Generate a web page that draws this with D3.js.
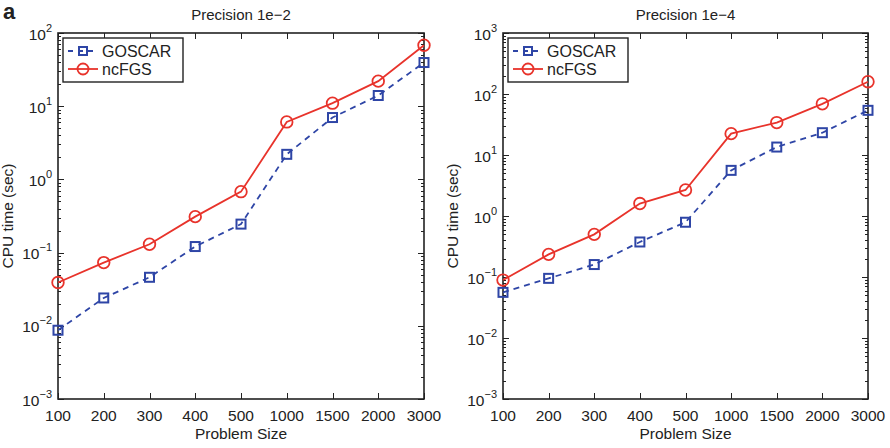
<!DOCTYPE html>
<html lang="en">
<head>
<meta charset="UTF-8">
<title>CPU time</title>
<style>
  body { margin: 0; background: #fff; }
  svg text { font-family: "Liberation Sans", Arial, sans-serif; fill: #222; }
  .axis path { display: none; }
  .axis line { stroke: #222; shape-rendering: crispEdges; }
</style>
</head>
<body>
<svg id="chart" width="890" height="448"></svg>
<script src="https://d3js.org/d3.v7.min.js"></script>
<script>
const sizes = ["100", "200", "300", "400", "500", "1000", "1500", "2000", "3000"];

// precision 1e-2
const goscar1 = [0.0087, 0.024, 0.046, 0.121, 0.245, 2.2, 7.0, 14, 39.5];
const ncfgs1 = [0.039, 0.073, 0.13, 0.31, 0.68, 6.1, 11, 22, 68];

// precision 1e-4
const goscar2 = [0.056, 0.095, 0.16, 0.375, 0.79, 5.6, 13.5, 23.2, 54];
const ncfgs2 = [0.089, 0.235, 0.5, 1.6, 2.67, 22.4, 34, 69, 159];

const titles = ["Precision 1e\u22122", "Precision 1e\u22124"];
const yDomains = [[1e-3, 1e2], [1e-3, 1e3]];

const blue = "#2e45a6", red = "#e8332b";

const svg = d3.select("#chart");

svg.append("text")
    .attr("x", 3).attr("y", 19)
    .style("font-size", "22px").style("font-weight", "bold")
    .text("a");

function drawPanel(left, right, title, domain, goscar, ncfgs) {
    const top = 33, bottom = 399;
    const x = d3.scalePoint().domain(sizes).range([left, right]);
    const y = d3.scaleLog().domain(domain).range([bottom, top]);

    const g = svg.append("g");

    // minor + major ticks on log axis
    const lo = Math.log10(domain[0]), hi = Math.log10(domain[1]);
    const major = d3.range(lo, hi + 1).map(e => Math.pow(10, e));
    const minor = [];
    major.slice(0, -1).forEach(m => { for (let k = 2; k < 10; k++) minor.push(m * k); });

    g.append("g").attr("class", "axis").attr("transform", `translate(${left},0)`)
        .call(d3.axisLeft(y).tickValues(minor).tickSize(-3).tickFormat(""));
    g.append("g").attr("class", "axis").attr("transform", `translate(${right},0)`)
        .call(d3.axisRight(y).tickValues(minor).tickSize(-3).tickFormat(""));
    g.append("g").attr("class", "axis").attr("transform", `translate(${left},0)`)
        .call(d3.axisLeft(y).tickValues(major).tickSize(-6).tickFormat(""));
    g.append("g").attr("class", "axis").attr("transform", `translate(${right},0)`)
        .call(d3.axisRight(y).tickValues(major).tickSize(-6).tickFormat(""));

    g.append("g").attr("class", "axis").attr("transform", `translate(0,${bottom})`)
        .call(d3.axisBottom(x).tickSize(-6).tickFormat(""));
    g.append("g").attr("class", "axis").attr("transform", `translate(0,${top})`)
        .call(d3.axisTop(x).tickSize(-6).tickFormat(""));

    // y tick labels with superscript exponent
    major.forEach(v => {
        const e = Math.round(Math.log10(v));
        const t = g.append("text")
            .attr("x", left - 6).attr("y", y(v) + 6.5)
            .attr("text-anchor", "end")
            .style("font-size", "15.5px");
        t.append("tspan").text("10");
        t.append("tspan").attr("dy", -8).style("font-size", "11px")
            .text(e < 0 ? "\u2212" + (-e) : e);
    });

    // x tick labels
    g.selectAll(".xl").data(sizes).enter().append("text")
        .attr("x", d => x(d)).attr("y", bottom + 22)
        .attr("text-anchor", "middle")
        .style("font-size", "15.5px")
        .text(d => d);

    // box
    g.append("rect")
        .attr("x", left).attr("y", top)
        .attr("width", right - left).attr("height", bottom - top)
        .attr("fill", "none").attr("stroke", "#222").attr("stroke-width", 1.6);

    g.append("text").attr("x", (left + right) / 2).attr("y", 20)
        .attr("text-anchor", "middle").style("font-size", "15px").text(title);
    g.append("text").attr("x", (left + right) / 2).attr("y", bottom + 40)
        .attr("text-anchor", "middle").style("font-size", "15.5px").text("Problem Size");
    g.append("text")
        .attr("transform", `translate(${left - 45},${(top + bottom) / 2}) rotate(-90)`)
        .attr("text-anchor", "middle").style("font-size", "15.5px").text("CPU time (sec)");

    const line = d3.line().x((d, i) => x(sizes[i])).y(d => y(d));

    g.append("path").datum(goscar).attr("d", line)
        .attr("fill", "none").attr("stroke", blue).attr("stroke-width", 1.8)
        .attr("stroke-dasharray", "6,5");
    g.append("path").datum(ncfgs).attr("d", line)
        .attr("fill", "none").attr("stroke", red).attr("stroke-width", 1.8);

    g.selectAll(".sq").data(goscar).enter().append("rect")
        .attr("x", (d, i) => x(sizes[i]) - 4.5).attr("y", d => y(d) - 4.5)
        .attr("width", 9).attr("height", 9)
        .attr("fill", "none").attr("stroke", blue).attr("stroke-width", 2);
    g.selectAll(".ci").data(ncfgs).enter().append("circle")
        .attr("cx", (d, i) => x(sizes[i])).attr("cy", d => y(d)).attr("r", 5.8)
        .attr("fill", "none").attr("stroke", red).attr("stroke-width", 1.8);

    // legend
    const lx = left + 5, ly = 38;
    const lg = g.append("g");
    lg.append("rect").attr("x", lx).attr("y", ly).attr("width", 120).attr("height", 44)
        .attr("fill", "#fff").attr("stroke", "#222").attr("stroke-width", 1.4);
    lg.append("line").attr("x1", lx + 5).attr("x2", lx + 35).attr("y1", ly + 13).attr("y2", ly + 13)
        .attr("stroke", blue).attr("stroke-width", 1.8).attr("stroke-dasharray", "5,5");
    lg.append("rect").attr("x", lx + 16).attr("y", ly + 9).attr("width", 8).attr("height", 8)
        .attr("fill", "none").attr("stroke", blue).attr("stroke-width", 2);
    lg.append("text").attr("x", lx + 39).attr("y", ly + 19).style("font-size", "16px").text("GOSCAR");
    lg.append("line").attr("x1", lx + 5).attr("x2", lx + 35).attr("y1", ly + 31).attr("y2", ly + 31)
        .attr("stroke", red).attr("stroke-width", 1.8);
    lg.append("circle").attr("cx", lx + 20).attr("cy", ly + 31).attr("r", 5.5)
        .attr("fill", "none").attr("stroke", red).attr("stroke-width", 1.8);
    lg.append("text").attr("x", lx + 39).attr("y", ly + 37).style("font-size", "16px").text("ncFGS");
}

drawPanel(58, 424, titles[0], yDomains[0], goscar1, ncfgs1);
drawPanel(503, 868, titles[1], yDomains[1], goscar2, ncfgs2);
</script>
</body>
</html>
